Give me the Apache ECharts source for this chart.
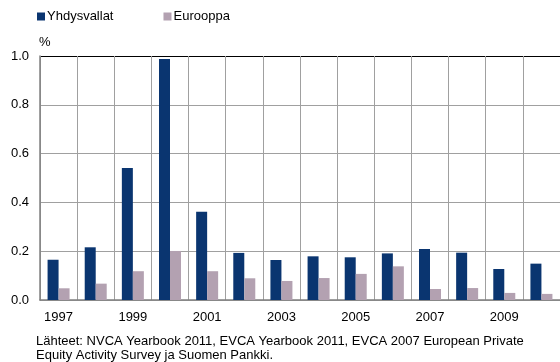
<!DOCTYPE html>
<html><head><meta charset="utf-8">
<script src="https://cdn.jsdelivr.net/npm/echarts@6/dist/echarts.min.js"></script>
<style>html,body{margin:0;padding:0;background:#fff}#c{width:560px;height:362px}</style>
</head><body><div id="c"></div>
<script>
var years = ['1997','1998','1999','2000','2001','2002','2003','2004','2005','2006','2007','2008','2009','2010'];
var usa = [0.165,0.216,0.541,0.988,0.362,0.193,0.164,0.179,0.175,0.191,0.209,0.194,0.127,0.149];
var europe = [0.048,0.067,0.118,0.201,0.118,0.089,0.078,0.090,0.107,0.138,0.045,0.049,0.029,0.025];
var yTicks = [0, 0.2, 0.4, 0.6, 0.8, 1.0];
var seriesNames = ['Yhdysvallat','Eurooppa'];
var footnote = 'Lähteet: NVCA Yearbook 2011, EVCA Yearbook 2011, EVCA 2007 European Private\nEquity Activity Survey ja Suomen Pankki.';

var font = '"Liberation Sans", Arial, sans-serif';
var chart = echarts.init(document.getElementById('c'));
chart.setOption({
  animation: false,
  textStyle: {fontFamily: font},
  graphic: [{
    type: 'text', left: 36, top: 334,
    style: {text: footnote, font: '13px "Liberation Sans", Arial, sans-serif', fill: '#000', lineHeight: 14}
  }],
  legend: {
    data: seriesNames, left: 37, top: 10, padding: 0, icon: 'rect', itemWidth: 8, itemHeight: 8, itemGap: 50,
    textStyle: {fontSize: 13, color: '#000', fontFamily: font, padding: [0,0,0,-3]}
  },
  grid: {left: 40, top: 56, width: 525, height: 244},
  xAxis: {
    type: 'category', data: years,
    axisLine: {lineStyle: {color: '#808080', width: 1.5}},
    axisTick: {show: false},
    axisLabel: {interval: 1, fontSize: 13, color: '#000', margin: 11, fontFamily: font},
    splitLine: {show: true, interval: 0, lineStyle: {color: '#a0a0a0', width: 1}}
  },
  yAxis: {
    type: 'value', min: yTicks[0], max: yTicks[yTicks.length-1], interval: 0.2,
    name: '%', nameLocation: 'end', nameGap: 7,
    nameTextStyle: {fontSize: 13, color: '#000', align: 'left', padding: [0,0,0,-1], fontFamily: font},
    axisLine: {show: true, lineStyle: {color: '#808080', width: 1.5}},
    axisTick: {show: false},
    axisLabel: {fontSize: 13, color: '#000', margin: 11, fontFamily: font, formatter: function(v){return v.toFixed(1);}},
    splitLine: {lineStyle: {color: ['#a0a0a0','#a0a0a0','#a0a0a0','#a0a0a0','#a0a0a0','#000'], width: 1}}
  },
  series: [
    {name: seriesNames[0], type: 'bar', data: usa, barWidth: 11, barGap: '0%', itemStyle: {color: '#0a3570'}},
    {name: seriesNames[1], type: 'bar', data: europe, barWidth: 11, barGap: '0%', itemStyle: {color: '#b3a1b1'}}
  ]
});
</script></body></html>
